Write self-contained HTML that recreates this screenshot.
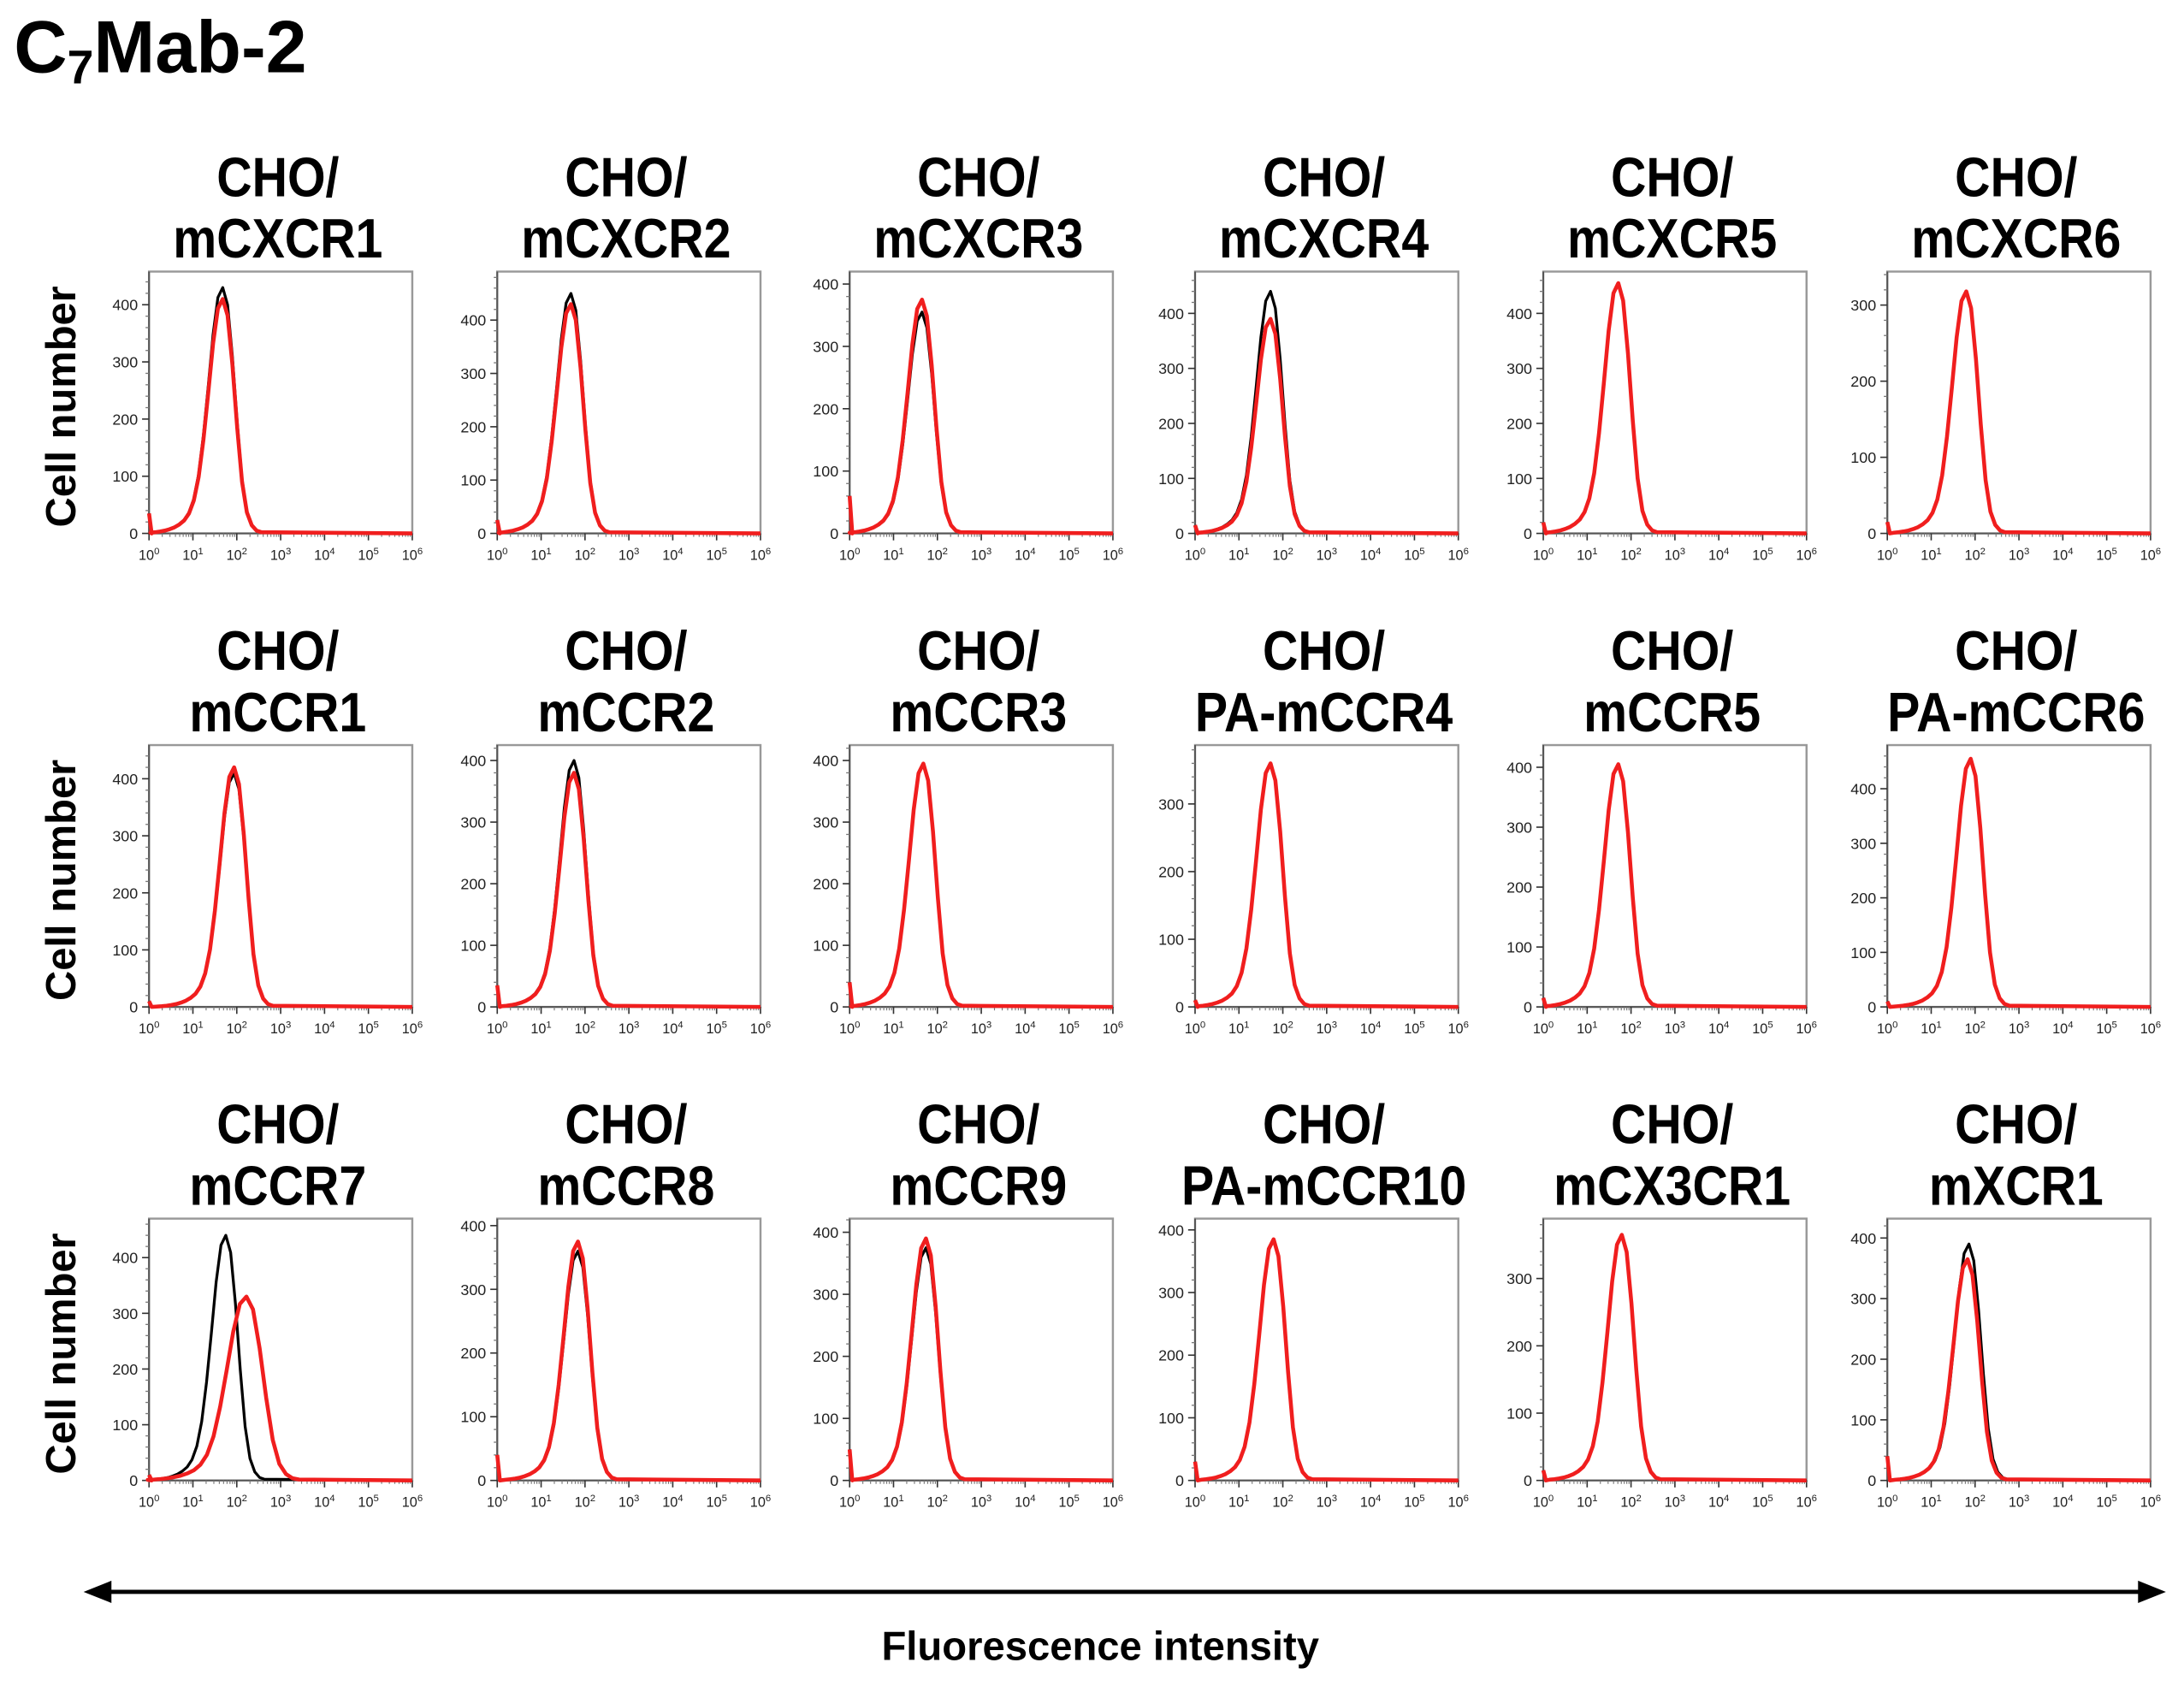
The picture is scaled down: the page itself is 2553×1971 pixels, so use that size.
<!DOCTYPE html>
<html><head><meta charset="utf-8"><style>
html,body{margin:0;padding:0;background:#fff;}
svg{display:block;}
text{font-family:"Liberation Sans",Arial,sans-serif;}
</style></head><body>
<svg id="fig" width="2553" height="1971" viewBox="0 0 1568 1210.6" preserveAspectRatio="none" xmlns="http://www.w3.org/2000/svg">
<text x="10" y="52" font-size="53" font-weight="bold">C<tspan font-size="34" dy="8">7</tspan><tspan dy="-8">Mab-2</tspan></text>
<g>
<line x1="75" y1="1143" x2="1540" y2="1143" stroke="#000" stroke-width="3"/>
<polygon points="60,1143 80,1135 80,1151" fill="#000"/>
<polygon points="1555,1143 1535,1135 1535,1151" fill="#000"/>
</g>
<text x="790" y="1192" font-size="29" font-weight="bold" text-anchor="middle">Fluorescence intensity</text>
<g id="panels"></g>
</svg>
<script>
const titles1 = ["CHO/","CHO/","CHO/","CHO/","CHO/","CHO/","CHO/","CHO/","CHO/","CHO/","CHO/","CHO/","CHO/","CHO/","CHO/","CHO/","CHO/","CHO/"];
const titles2 = ["mCXCR1","mCXCR2","mCXCR3","mCXCR4","mCXCR5","mCXCR6","mCCR1","mCCR2","mCCR3","PA-mCCR4","mCCR5","PA-mCCR6","mCCR7","mCCR8","mCCR9","PA-mCCR10","mCX3CR1","mXCR1"];
const yMax = [458,491,420,476,476,344,459,425,425,387,437,480,470,411,422,418,389,432];
const blackLog = [1.68,1.68,1.65,1.72,1.71,1.8,1.94,1.75,1.68,1.72,1.71,1.9,1.75,1.84,1.74,1.79,1.79,1.86];
const blackPeak = [430,450,355,440,455,318,410,400,395,360,405,455,440,360,375,385,365,390];
const redLog = [1.68,1.68,1.65,1.72,1.71,1.8,1.94,1.75,1.68,1.72,1.71,1.9,2.22,1.84,1.74,1.79,1.79,1.83];
const redPeak = [410,430,375,390,455,318,420,380,395,360,405,455,330,375,390,385,365,365];
const redWidth = [1.1,1.1,1.1,1.1,1.1,1.1,1.1,1.1,1.1,1.1,1.1,1.1,1.5,1.1,1.1,1.1,1.1,1.1];
const blackWidth = [1.1,1.1,1.1,1.1,1.1,1.1,1.1,1.1,1.1,1.1,1.1,1.1,1.1,1.1,1.1,1.1,1.1,1.1];
const spike = [35,25,60,15,20,15,10,35,40,10,15,10,10,40,50,30,15,40];
const profileOffsets = [-1.5,-1.4,-1.3,-1.2,-1.1,-1.0,-0.9,-0.8,-0.7,-0.6,-0.5,-0.4,-0.3,-0.2,-0.1,0,0.1,0.2,0.3,0.4,0.5,0.6,0.7,0.8];
const profileValues = [0.003,0.005,0.008,0.012,0.018,0.026,0.038,0.055,0.085,0.14,0.24,0.4,0.6,0.81,0.96,1,0.93,0.72,0.45,0.22,0.09,0.035,0.012,0.005];
const xTicks = [0,1,2,3,4,5,6];

const colLeft=[107,357,610,858,1108,1355], boxW=189;
const rowTop=[195,535,875], boxH=188;
const NS="http://www.w3.org/2000/svg";
const root=document.getElementById('panels');
function mk(tag,attrs,parent){const e=document.createElementNS(NS,tag);for(const k in attrs)e.setAttribute(k,attrs[k]);(parent||root).appendChild(e);return e;}

for(let r=0;r<3;r++){
  const yl=mk('text',{x:0,y:0,'font-size':30,'font-weight':'bold','text-anchor':'middle',transform:`translate(54,${rowTop[r]+97}) rotate(-90)`});
  
  
  yl.textContent='Cell number';
}

for(let i=0;i<18;i++){
  const r=Math.floor(i/6), c=i%6;
  const L=colLeft[c], T=rowTop[r], B=T+boxH, R=L+boxW;
  const g=mk('g',{});
  
  
  const xs=v=>L+v/6*boxW;
  const ys=v=>B-v/yMax[i]*boxH;
  const cx=L+boxW/2;
  const t=mk('text',{x:0,y:0,'font-size':40,'font-weight':'bold','text-anchor':'middle',transform:`translate(${cx-2},${T-54}) scale(0.88,1)`},g);
  
  
  t.textContent=titles1[i];
  const t2=mk('text',{x:0,y:0,'font-size':40,'font-weight':'bold','text-anchor':'middle',transform:`translate(${cx-2},${T-10}) scale(0.88,1)`},g);
  
  
  t2.textContent=titles2[i];
  const box=mk('rect',{x:L,y:T,width:boxW,height:boxH,fill:'#fff',stroke:'#999','stroke-width':1.5},g);
  
  
  mk('line',{x1:L,y1:T,x2:L,y2:B,stroke:'#555','stroke-width':1.2},g);
  mk('line',{x1:L,y1:B,x2:R,y2:B,stroke:'#555','stroke-width':1.2},g);
  for(let v=0;v<=yMax[i];v+=100){
    mk('line',{x1:L-5,y1:ys(v),x2:L,y2:ys(v),stroke:'#333','stroke-width':1},g);
    const tl=mk('text',{x:L-8,y:ys(v)+4,'font-size':11,'text-anchor':'end',fill:'#222'},g);
    
    
    tl.textContent=String(v);
  }
  for(let v=20;v<yMax[i];v+=20){ if(v%100) mk('line',{x1:L-2.5,y1:ys(v),x2:L,y2:ys(v),stroke:'#777','stroke-width':0.8},g); }
  xTicks.forEach(d=>{
    mk('line',{x1:xs(d),y1:B,x2:xs(d),y2:B+5,stroke:'#333','stroke-width':1},g);
    const xl=mk('text',{x:xs(d),y:B+19,'font-size':10,'text-anchor':'middle',fill:'#222'},g);
    
    
    xl.innerHTML='10<tspan font-size="7" dy="-4">'+d+'</tspan>';
    if(d<6) for(let m=2;m<10;m++){const xx=xs(d+Math.log10(m));mk('line',{x1:xx,y1:B,x2:xx,y2:B+2.5,stroke:'#777','stroke-width':0.7},g);}
  });
  function curve(center,peak,w,color,sw,name){
    let d=`M${xs(0)},${ys(spike[i])} L${xs(0.06)},${ys(0)}`;
    profileOffsets.forEach((o,k)=>{d+=` L${xs(center+o*w)},${ys(profileValues[k]*peak)}`;});
    d+=` L${xs(6)},${ys(0)}`;
    const p=mk('path',{d:d,fill:'none',stroke:color,'stroke-width':sw,'stroke-linejoin':'round'},g);
    
    
  }
  curve(blackLog[i],blackPeak[i],blackWidth[i],'#000',2,'control-histogram');
  curve(redLog[i],redPeak[i],redWidth[i],'#f01e1e',2.8,'antibody-histogram');
}
</script>
</body></html>
